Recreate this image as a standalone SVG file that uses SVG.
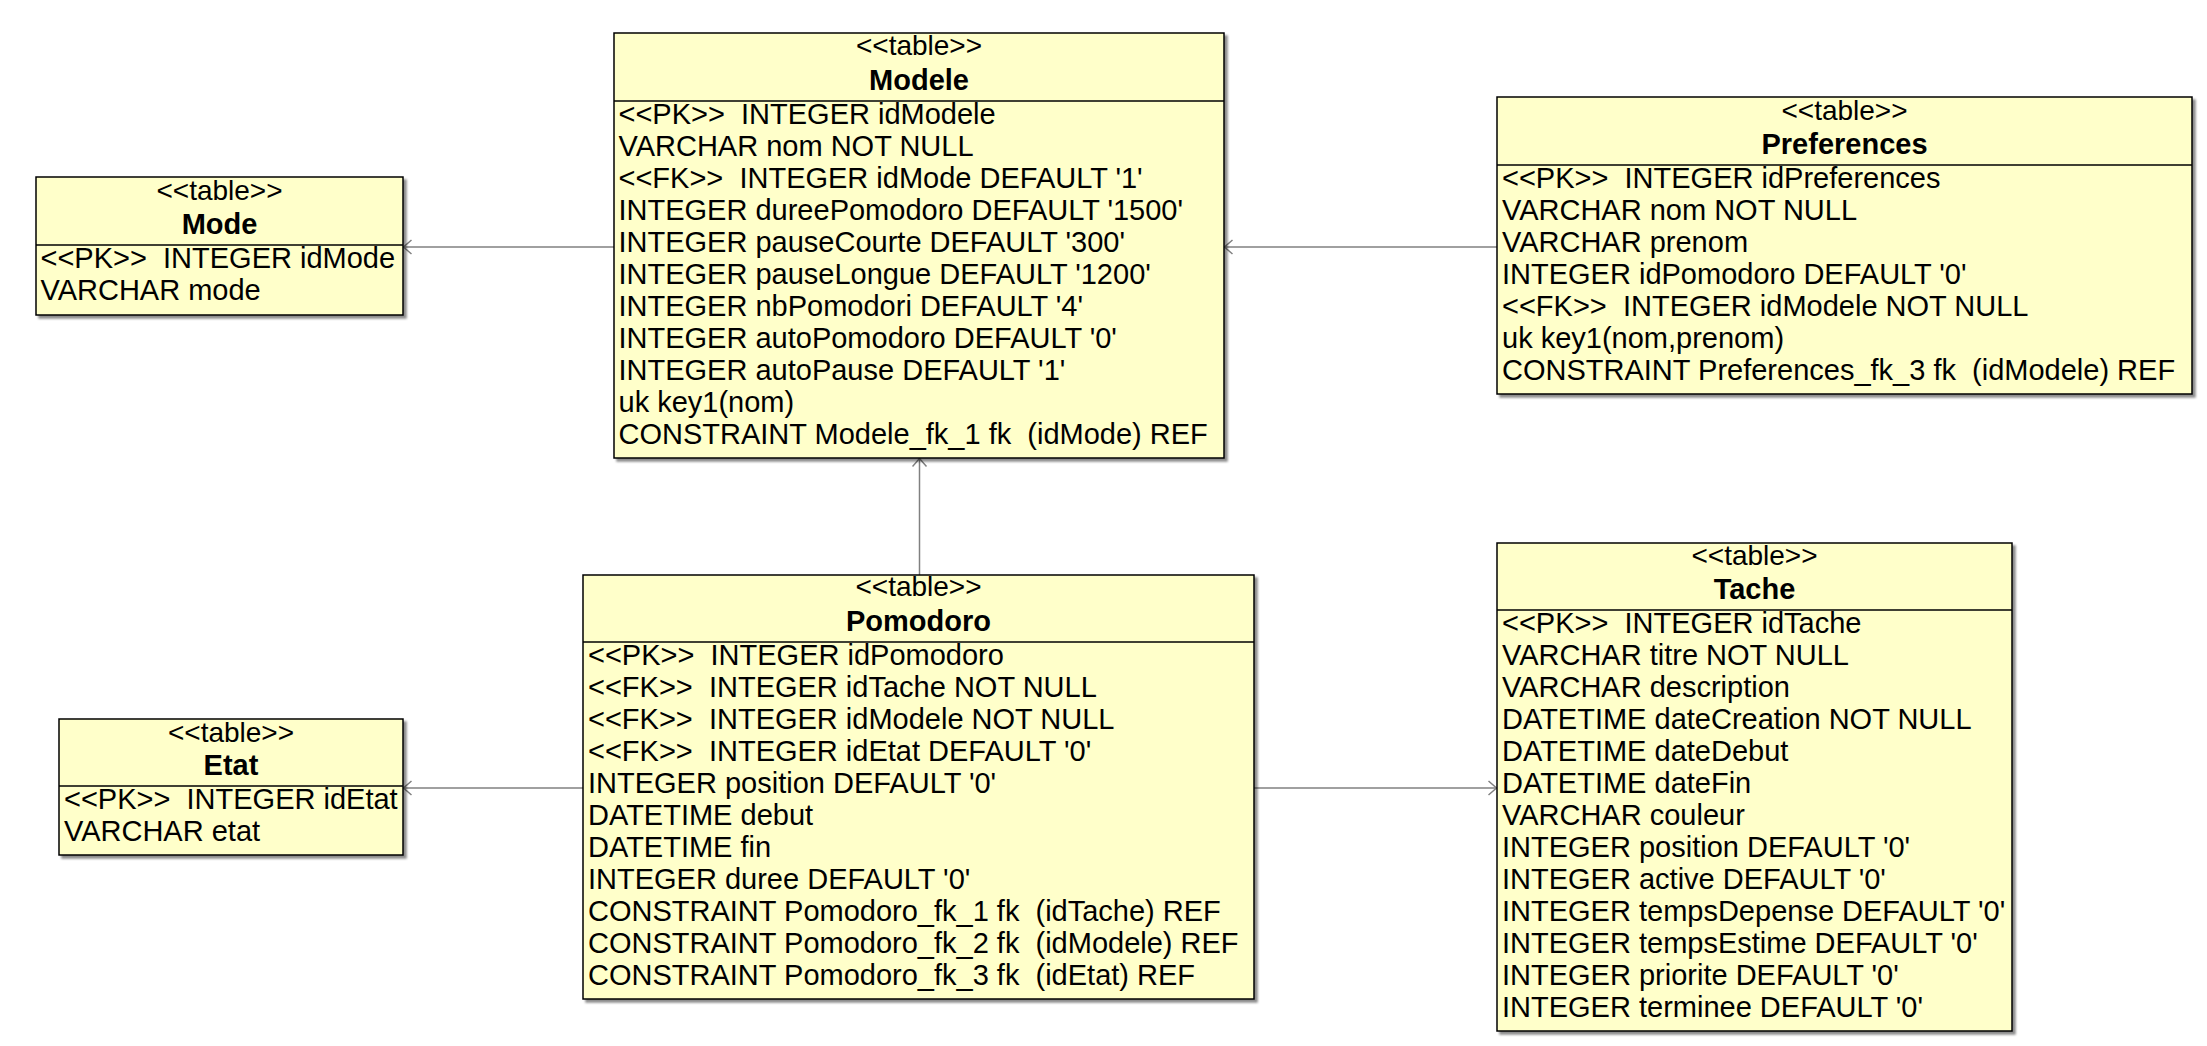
<svg xmlns="http://www.w3.org/2000/svg" width="2207" height="1046" viewBox="0 0 2207 1046">
<defs>
<style>
.box{fill:#FFFFCA;stroke:#000;stroke-width:1.5}
.sep{stroke:#000;stroke-width:1.5}
.st{font-family:"Liberation Sans",Arial,sans-serif;font-size:28px;fill:#000;text-anchor:middle}
.nm{font-family:"Liberation Sans",Arial,sans-serif;font-size:29px;font-weight:bold;fill:#000;text-anchor:middle}
.row{font-family:"Liberation Sans",Arial,sans-serif;font-size:29px;fill:#000;white-space:pre}
.edge{fill:none;stroke:#808080;stroke-width:1.5}
</style>
<filter id="sh" x="-5%" y="-5%" width="115%" height="115%">
<feDropShadow dx="3" dy="3" stdDeviation="1" flood-color="#000" flood-opacity="0.45"/>
</filter>
<marker id="ah" viewBox="0 0 10 16" refX="9.5" refY="8" markerWidth="10" markerHeight="16" markerUnits="userSpaceOnUse" orient="auto">
<path d="M1,1 L9,8 L1,15" fill="none" stroke="#808080" stroke-width="1.5"/>
</marker>
</defs>
<g id="connectors">
<line class="edge" x1="614" y1="247" x2="403" y2="247" marker-end="url(#ah)"/>
<line class="edge" x1="1497" y1="247" x2="1224" y2="247" marker-end="url(#ah)"/>
<line class="edge" x1="919.5" y1="575" x2="919.5" y2="458" marker-end="url(#ah)"/>
<line class="edge" x1="583" y1="788" x2="403" y2="788" marker-end="url(#ah)"/>
<line class="edge" x1="1254" y1="788" x2="1497" y2="788" marker-end="url(#ah)"/>
</g>
<g id="Mode">
<rect class="box" x="36" y="177" width="367" height="138" filter="url(#sh)"/>
<line class="sep" x1="36" y1="245" x2="403" y2="245"/>
<text class="st" x="219.5" y="200">&lt;&lt;table&gt;&gt;</text>
<text class="nm" x="219.5" y="234">Mode</text>
<text class="row" x="40.5" y="268">&lt;&lt;PK&gt;&gt;  INTEGER idMode</text>
<text class="row" x="40.5" y="300">VARCHAR mode</text>
</g>
<g id="Modele">
<rect class="box" x="614" y="33" width="610" height="425" filter="url(#sh)"/>
<line class="sep" x1="614" y1="101" x2="1224" y2="101"/>
<text class="st" x="919" y="55">&lt;&lt;table&gt;&gt;</text>
<text class="nm" x="919" y="90">Modele</text>
<text class="row" x="618.5" y="124">&lt;&lt;PK&gt;&gt;  INTEGER idModele</text>
<text class="row" x="618.5" y="156">VARCHAR nom NOT NULL</text>
<text class="row" x="618.5" y="188">&lt;&lt;FK&gt;&gt;  INTEGER idMode DEFAULT '1'</text>
<text class="row" x="618.5" y="220">INTEGER dureePomodoro DEFAULT '1500'</text>
<text class="row" x="618.5" y="252">INTEGER pauseCourte DEFAULT '300'</text>
<text class="row" x="618.5" y="284">INTEGER pauseLongue DEFAULT '1200'</text>
<text class="row" x="618.5" y="316">INTEGER nbPomodori DEFAULT '4'</text>
<text class="row" x="618.5" y="348">INTEGER autoPomodoro DEFAULT '0'</text>
<text class="row" x="618.5" y="380">INTEGER autoPause DEFAULT '1'</text>
<text class="row" x="618.5" y="412">uk key1(nom)</text>
<text class="row" x="618.5" y="444">CONSTRAINT Modele_fk_1 fk  (idMode) REF</text>
</g>
<g id="Preferences">
<rect class="box" x="1497" y="97" width="695" height="297" filter="url(#sh)"/>
<line class="sep" x1="1497" y1="165" x2="2192" y2="165"/>
<text class="st" x="1844.5" y="120">&lt;&lt;table&gt;&gt;</text>
<text class="nm" x="1844.5" y="154">Preferences</text>
<text class="row" x="1502" y="188">&lt;&lt;PK&gt;&gt;  INTEGER idPreferences</text>
<text class="row" x="1502" y="220">VARCHAR nom NOT NULL</text>
<text class="row" x="1502" y="252">VARCHAR prenom</text>
<text class="row" x="1502" y="284">INTEGER idPomodoro DEFAULT '0'</text>
<text class="row" x="1502" y="316">&lt;&lt;FK&gt;&gt;  INTEGER idModele NOT NULL</text>
<text class="row" x="1502" y="348">uk key1(nom,prenom)</text>
<text class="row" x="1502" y="380">CONSTRAINT Preferences_fk_3 fk  (idModele) REF</text>
</g>
<g id="Etat">
<rect class="box" x="59" y="719" width="344" height="136" filter="url(#sh)"/>
<line class="sep" x1="59" y1="786" x2="403" y2="786"/>
<text class="st" x="231" y="742">&lt;&lt;table&gt;&gt;</text>
<text class="nm" x="231" y="775">Etat</text>
<text class="row" x="64" y="809">&lt;&lt;PK&gt;&gt;  INTEGER idEtat</text>
<text class="row" x="64" y="841">VARCHAR etat</text>
</g>
<g id="Pomodoro">
<rect class="box" x="583" y="575" width="671" height="424" filter="url(#sh)"/>
<line class="sep" x1="583" y1="642" x2="1254" y2="642"/>
<text class="st" x="918.5" y="596">&lt;&lt;table&gt;&gt;</text>
<text class="nm" x="918.5" y="631">Pomodoro</text>
<text class="row" x="588" y="665">&lt;&lt;PK&gt;&gt;  INTEGER idPomodoro</text>
<text class="row" x="588" y="697">&lt;&lt;FK&gt;&gt;  INTEGER idTache NOT NULL</text>
<text class="row" x="588" y="729">&lt;&lt;FK&gt;&gt;  INTEGER idModele NOT NULL</text>
<text class="row" x="588" y="761">&lt;&lt;FK&gt;&gt;  INTEGER idEtat DEFAULT '0'</text>
<text class="row" x="588" y="793">INTEGER position DEFAULT '0'</text>
<text class="row" x="588" y="825">DATETIME debut</text>
<text class="row" x="588" y="857">DATETIME fin</text>
<text class="row" x="588" y="889">INTEGER duree DEFAULT '0'</text>
<text class="row" x="588" y="921">CONSTRAINT Pomodoro_fk_1 fk  (idTache) REF</text>
<text class="row" x="588" y="953">CONSTRAINT Pomodoro_fk_2 fk  (idModele) REF</text>
<text class="row" x="588" y="985">CONSTRAINT Pomodoro_fk_3 fk  (idEtat) REF</text>
</g>
<g id="Tache">
<rect class="box" x="1497" y="543" width="515" height="488" filter="url(#sh)"/>
<line class="sep" x1="1497" y1="610" x2="2012" y2="610"/>
<text class="st" x="1754.5" y="565">&lt;&lt;table&gt;&gt;</text>
<text class="nm" x="1754.5" y="599">Tache</text>
<text class="row" x="1502" y="633">&lt;&lt;PK&gt;&gt;  INTEGER idTache</text>
<text class="row" x="1502" y="665">VARCHAR titre NOT NULL</text>
<text class="row" x="1502" y="697">VARCHAR description</text>
<text class="row" x="1502" y="729">DATETIME dateCreation NOT NULL</text>
<text class="row" x="1502" y="761">DATETIME dateDebut</text>
<text class="row" x="1502" y="793">DATETIME dateFin</text>
<text class="row" x="1502" y="825">VARCHAR couleur</text>
<text class="row" x="1502" y="857">INTEGER position DEFAULT '0'</text>
<text class="row" x="1502" y="889">INTEGER active DEFAULT '0'</text>
<text class="row" x="1502" y="921">INTEGER tempsDepense DEFAULT '0'</text>
<text class="row" x="1502" y="953">INTEGER tempsEstime DEFAULT '0'</text>
<text class="row" x="1502" y="985">INTEGER priorite DEFAULT '0'</text>
<text class="row" x="1502" y="1017">INTEGER terminee DEFAULT '0'</text>
</g>
</svg>
